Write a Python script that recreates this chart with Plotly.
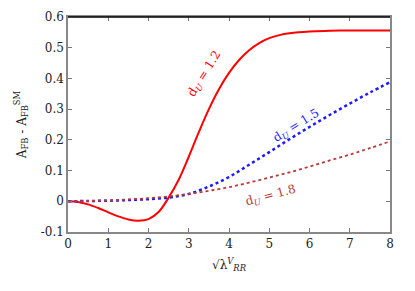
import plotly.graph_objects as go

x_red = [0, 0.25, 0.5, 0.75, 1, 1.25, 1.5, 1.75, 2, 2.25, 2.5, 2.75, 3, 3.25, 3.5, 3.75, 4, 4.25, 4.5, 4.75, 5, 5.25, 5.5, 6, 6.5, 7, 7.5, 8]
y_red = [0, -0.002, -0.010, -0.022, -0.036, -0.049, -0.059, -0.063, -0.058, -0.035, 0.012, 0.07, 0.145, 0.225, 0.300, 0.365, 0.418, 0.46, 0.492, 0.515, 0.531, 0.541, 0.547, 0.553, 0.555, 0.556, 0.556, 0.556]

x_blue = [0, 0.5, 1, 1.5, 2, 2.5, 3, 3.5, 4, 4.5, 5, 5.5, 6, 6.5, 7, 7.5, 8]
y_blue = [0, 0.001, 0.002, 0.004, 0.007, 0.012, 0.024, 0.048, 0.079, 0.119, 0.16, 0.202, 0.242, 0.281, 0.318, 0.354, 0.388]

x_brown = [0, 0.5, 1, 1.5, 2, 2.5, 3, 3.5, 4, 4.5, 5, 5.5, 6, 6.5, 7, 7.5, 8]
y_brown = [0, 0.001, 0.003, 0.006, 0.010, 0.016, 0.024, 0.034, 0.046, 0.061, 0.077, 0.094, 0.113, 0.133, 0.152, 0.173, 0.195]

x_ticks = [0, 1, 2, 3, 4, 5, 6, 7, 8]
y_ticks = [-0.1, 0, 0.1, 0.2, 0.3, 0.4, 0.5, 0.6]
y_ticktext = ["-0.1", "0", "0.1", "0.2", "0.3", "0.4", "0.5", "0.6"]

labels = ["d<sub><i>U</i></sub> = 1.2", "d<sub><i>U</i></sub> = 1.5", "d<sub><i>U</i></sub> = 1.8"]
label_x = [3.4, 5.68, 5.04]
label_y = [0.415, 0.244, 0.018]
label_angle = [-58, -32, -15]

RED = "#ff0000"
BLUE = "#1a1aff"
BROWN = "#b83a3a"
colors = [RED, BLUE, BROWN]

font = "DejaVu Serif"

fig = go.Figure()
fig.add_trace(go.Scatter(x=x_red, y=y_red, mode="lines", line=dict(color=RED, width=2, shape="spline"), showlegend=False))
fig.add_trace(go.Scatter(x=x_blue, y=y_blue, mode="lines", line=dict(color=BLUE, width=2.5, dash="dot", shape="spline"), showlegend=False))
fig.add_trace(go.Scatter(x=x_brown, y=y_brown, mode="lines", line=dict(color=BROWN, width=1.8, dash="dot", shape="spline"), showlegend=False))

for t, xx, yy, a, c in zip(labels, label_x, label_y, label_angle, colors):
    fig.add_annotation(x=xx, y=yy, text=t, showarrow=False, textangle=a,
                       font=dict(family=font, size=12, color=c))

fig.add_shape(type="line", xref="paper", yref="paper", x0=0, x1=1, y0=1, y1=1,
              line=dict(color="black", width=1.5))

fig.update_xaxes(range=[0, 8], tickvals=x_ticks, ticks="inside", ticklen=4, tickcolor="#777",
                 showline=True, linecolor="#888", linewidth=1.5, mirror="ticks",
                 showgrid=False, zeroline=False, automargin=False,
                 tickfont=dict(family=font, size=12, color="#222"),
                 title=dict(text="√λ<sup><i>V</i></sup><sub><i>RR</i></sub>", font=dict(family=font, size=12, color="#222"), standoff=10))
fig.update_yaxes(range=[-0.1, 0.6], tickvals=y_ticks, ticktext=y_ticktext, ticks="inside", ticklen=4, tickcolor="#777",
                 showline=True, linecolor="#888", linewidth=1.5, mirror="ticks",
                 showgrid=False, zeroline=False, automargin=False,
                 tickfont=dict(family=font, size=12, color="#222"),
                 title=dict(text="A<sub>FB</sub> - A<sub>FB</sub><sup>SM</sup>", font=dict(family=font, size=12, color="#222"), standoff=12))

fig.update_layout(width=407, height=283, margin=dict(l=60, r=25, t=9, b=59),
                  font=dict(family=font),
                  plot_bgcolor="white", paper_bgcolor="white")

fig.write_html("out.html")
